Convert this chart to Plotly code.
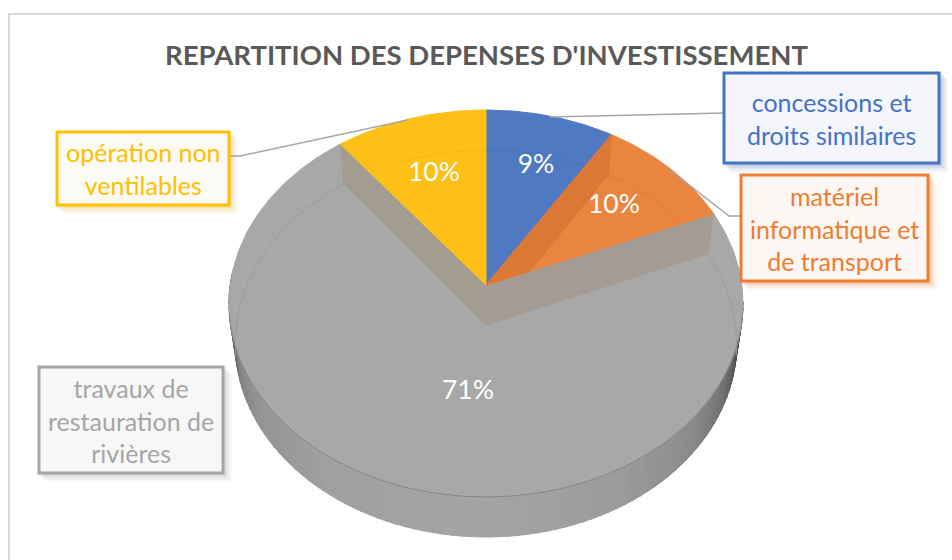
import numpy as np
import plotly.graph_objects as go

# ---- data ----
categories = ["concessions et<br>droits similaires",
              "matériel<br>informatique et<br>de transport",
              "travaux de<br>restauration de<br>rivières",
              "opération non<br>ventilables"]
values = [8.9, 9.8, 70.81, 10.49]
title_text = "REPARTITION DES DEPENSES D'INVESTISSEMENT"

# ---- style ----
FONT = "Lato"
slice_colors = ["#4F7AC2", "#E9853E", "#A8A8A8", "#FCC016"]
text_colors = ["#4472C4", "#ED7D31", "#A5A5A5", "#FFC000"]
box_fills = ["#F4F6FB", "#FCF7F4", "#F7F7F7", "#FBFAF5"]
boxes = [(724, 73, 939, 163), (741, 175, 928, 281), (39, 367, 223, 473), (57, 132, 229, 205)]
leaders = [[(550, 117), (724, 113)], [(670, 170), (729, 216), (741, 216)],
           None, [(408, 120), (240, 156), (229, 156)]]
pct_pos = [(536, 166.5), (614, 206.5), (468, 392.5), (434, 174)]

# ---- projection of the tilted disc ----
CX, CY_TOP, CY_BOT = 486.0, 285.0, 325.0
RX_TOP, RX_BOT, RY, PERSP = 255.8, 249.5, 191.7, 0.0956


def project(theta_deg, cy=CY_TOP, rx=RX_TOP, r=1.0):
    t = np.radians(np.asarray(theta_deg, dtype=float))
    u, v = r * np.sin(t), r * np.cos(t)
    s = 1 / (1 + PERSP * v)
    return CX + rx * u * s, cy - RY * v * s


def rim_top(t):
    return project(t)


def rim_bot(t):
    return project(t, CY_BOT, RX_BOT)


def screen_angle(x, y):
    return np.degrees(np.arctan2(x - CX, CY_TOP - y))


def inner_arc(a0, a1):
    """part of the lower rim seen through the slice a0..a1 of the upper face"""
    th = np.linspace(a0 - 40, a1 + 40, 300)
    x, y = rim_bot(th)
    xa, ya = rim_top(a0)
    xb, yb = rim_top(a1)
    low, high = screen_angle(xa, ya), screen_angle(xb, yb)
    ang = screen_angle(x, y)
    ang = np.where(ang < low - 60, ang + 360, ang)
    keep = (ang >= low) & (ang <= high if high > low else ang <= high + 360)
    return x[keep], y[keep]


def poly(x, y, fill, line=None, width=1):
    return go.Scatter(x=list(x), y=list(y), mode="lines", fill="toself", fillcolor=fill,
                      line=dict(color=line or fill, width=width), hoverinfo="skip", showlegend=False)


def path(x, y, color, width=1):
    return go.Scatter(x=list(x), y=list(y), mode="lines", line=dict(color=color, width=width),
                      hoverinfo="skip", showlegend=False)


edges = np.concatenate([[0], np.cumsum(values) * 3.6])
fig = go.Figure()

# outer wall: shaded strips between the two rims along the front
STOPS = [(95, 40), (100, 55), (106, 85), (116, 115), (130, 140), (150, 155), (180, 165),
         (215, 160), (238, 148), (252, 128), (262, 95), (268, 70), (272, 85)]
sx = [a for a, _ in STOPS]
sv = [b for _, b in STOPS]
th = np.arange(95, 272, 2.0)
for a in th:
    seg = np.array([a, a + 2.4])
    xt, yt = rim_top(seg)
    xb, yb = rim_bot(seg)
    g = int(np.interp(a, sx, sv))
    fig.add_trace(poly(np.r_[xt, xb[::-1], xt[0]], np.r_[yt, yb[::-1], yt[0]], f"rgb({g},{g},{g})"))

# gray slice (upper face)
a0, a1 = edges[2], edges[3]
tt = np.linspace(a0, a1, 260)
xs, ys = rim_top(tt)
fig.add_trace(poly(np.r_[CX, xs, CX], np.r_[CY_TOP, ys, CY_TOP], slice_colors[2]))
tf = np.linspace(98, 262, 160)
fig.add_trace(path(*rim_top(tf), "#868686", 1))
# lower rim seen through the gray face
for lo, hi in [(a0, 99), (261, a1)]:
    fig.add_trace(path(*rim_bot(np.linspace(lo, hi, 80)), "#9B9B9B", 1))

# cut walls of the missing wedge
xa, ya = rim_top(edges[2])
xb, yb = rim_bot(edges[2])
fig.add_trace(poly([CX, xa, xb, CX, CX], [CY_TOP, ya, yb, CY_BOT, CY_TOP], "#A59B95"))
xa, ya = rim_top(edges[3])
xb, yb = rim_bot(edges[3])
fig.add_trace(poly([CX, xa, xb, CX, CX], [CY_TOP, ya, yb, CY_BOT, CY_TOP], "#A39D91"))

# coloured slices
for i, (lo, hi) in {0: (edges[0], edges[1]), 1: (edges[1], edges[2]), 3: (edges[3], edges[4])}.items():
    tt = np.linspace(lo, hi, 60)
    xs, ys = rim_top(tt)
    fig.add_trace(poly(np.r_[CX, xs, CX], np.r_[CY_TOP, ys, CY_TOP], slice_colors[i]))

# darker inner wall visible in the orange slice
xr, yr = rim_top(edges[1])
xq, yq = rim_bot(edges[1])
xe, ye = rim_top(edges[2])
d1 = np.array([CX - xq, CY_BOT - yq])
d2 = np.array([xe - CX, ye - CY_TOP])
sol = np.linalg.solve(np.array([d1, -d2]).T, np.array([CX - xq, CY_TOP - yq]))
xi, yi = xq + sol[0] * d1[0], yq + sol[0] * d1[1]
fig.add_trace(poly([CX, xr, xq, xi, CX], [CY_TOP, yr, yq, yi, CY_TOP], "#DC7836"))

# faint lower rim through the coloured slices
fig.add_trace(path(*inner_arc(edges[3] - 360, 0), "#F3B71C", 1))
fig.add_trace(path(*inner_arc(0, edges[1]), "#4A73B8", 1))
fig.add_trace(path(*inner_arc(edges[1], edges[2]), "#E07B38", 1))

# leader lines
for pts in leaders:
    if pts:
        fig.add_trace(path([p[0] for p in pts], [p[1] for p in pts], "#A6A6A6", 1.5))

# percentage labels
for v, (px, py) in zip(values, pct_pos):
    fig.add_trace(go.Scatter(x=[px], y=[py], mode="text", text=[f"{round(v)}%"],
                             textposition="middle center",
                             textfont=dict(family=FONT, size=26.5, color="white"),
                             hoverinfo="skip", showlegend=False))

# label boxes, shadows and texts
shapes = [
    dict(type="line", x0=9, x1=9, y0=14, y1=560, line=dict(color="#D9D9D9", width=2), layer="below"),
    dict(type="line", x0=8, x1=952, y0=14, y1=14, line=dict(color="#D9D9D9", width=2), layer="below"),
]
annotations = [dict(x=486, y=54, text=f"<b>{title_text}</b>", showarrow=False, xanchor="center",
                    yanchor="middle", font=dict(family=FONT, size=27.5, color="#595959"))]
for (x0, y0, x1, y1), col, bg, name in zip(boxes, text_colors, box_fills, categories):
    r, g, b = int(col[1:3], 16), int(col[3:5], 16), int(col[5:7], 16)
    for off, alpha in [(9, .05), (7, .07), (5, .10), (3, .12)]:
        shapes.append(dict(type="rect", x0=x0 + off - 3, x1=x1 + off, y0=y0 + off - 3, y1=y1 + off,
                           fillcolor=f"rgba({max(r-30,0)},{max(g-30,0)},{max(b-30,0)},{alpha})",
                           line=dict(width=0), layer="above"))
    shapes.append(dict(type="rect", x0=x0, x1=x1, y0=y0, y1=y1, fillcolor=bg,
                       line=dict(color=col, width=3), layer="above"))
    annotations.append(dict(x=(x0 + x1) / 2, y=(y0 + y1) / 2, text=name, showarrow=False,
                            xanchor="center", yanchor="middle", align="center",
                            font=dict(family=FONT, size=25, color=col)))

fig.update_layout(
    width=952, height=560, margin=dict(l=0, r=0, t=0, b=0), autosize=False,
    paper_bgcolor="white", plot_bgcolor="white", showlegend=False,
    xaxis=dict(range=[0, 952], visible=False, fixedrange=True),
    yaxis=dict(range=[560, 0], visible=False, fixedrange=True),
    shapes=shapes, annotations=annotations,
)
fig.write_html("out.html", config=dict(displayModeBar=False),
               post_script="document.body.style.margin='0';document.documentElement.style.overflow='hidden';")
